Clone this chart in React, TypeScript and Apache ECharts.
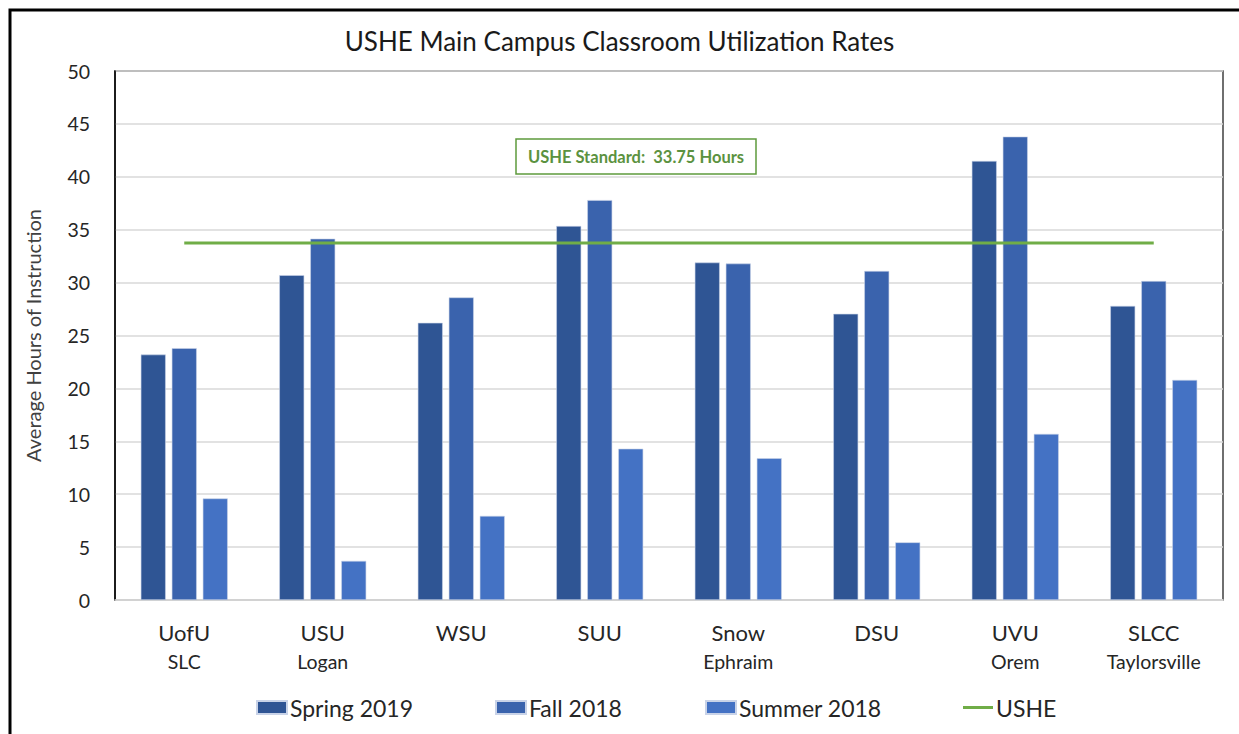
import React, { useEffect, useRef } from "react";
import * as echarts from "echarts";

const categories = ["UofU", "USU", "WSU", "SUU", "Snow", "DSU", "UVU", "SLCC"];
const locations = ["SLC", "Logan", "", "", "Ephraim", "", "Orem", "Taylorsville"];
const spring2019 = [23.2, 30.7, 26.2, 35.35, 31.9, 27.05, 41.5, 27.8];
const fall2018 = [23.8, 34.15, 28.6, 37.8, 31.8, 31.1, 43.8, 30.15];
const summer2018 = [9.6, 3.7, 7.95, 14.3, 13.4, 5.45, 15.7, 20.8];
const usheStandard = 33.75;
const usheLine = categories.map(() => usheStandard);
const yTicks = [0, 5, 10, 15, 20, 25, 30, 35, 40, 45, 50];

const FONT = "Lato, 'Open Sans', sans-serif";
const TEXT = "#262626";

export default function App() {
  const ref = useRef<HTMLDivElement>(null);
  useEffect(() => {
    if (!ref.current) return;
    const chart = echarts.init(ref.current, null, { renderer: "svg" });
    const legendBase = {
      top: 691,
      itemWidth: 30,
      itemHeight: 13,
      itemGap: 4,
      textStyle: { fontFamily: FONT, fontSize: 23, color: TEXT, padding: [0, 0, 0, -2] },
    };
    chart.setOption({
      animation: false,
      backgroundColor: "#ffffff",
      textStyle: { fontFamily: FONT },
      title: {
        text: "USHE Main Campus Classroom Utilization Rates",
        left: "center",
        top: 23,
        textStyle: { fontFamily: FONT, fontSize: 26, fontWeight: "normal", color: "#1a1a1a" },
      },
      grid: {
        left: 115,
        right: 16,
        top: 71,
        bottom: 134,
        show: true,
        borderColor: "#404040",
        borderWidth: 1.5,
        backgroundColor: "transparent",
      },
      legend: [
        { ...legendBase, left: 251, data: [{ name: "Spring 2019", icon: "rect" }] },
        { ...legendBase, left: 490, data: [{ name: "Fall 2018", icon: "rect" }] },
        { ...legendBase, left: 700, data: [{ name: "Summer 2018", icon: "rect" }] },
        {
          ...legendBase,
          left: 958,
          data: [{ name: "USHE", icon: "rect", itemStyle: { color: "#70ad47" } }],
          itemHeight: 3,
        },
      ],
      xAxis: {
        type: "category",
        data: categories,
        boundaryGap: true,
        axisLine: { show: true, lineStyle: { color: "#d9d9d9", width: 1.5 } },
        axisTick: { show: false },
        axisLabel: {
          margin: 18,
          interval: 0,
          formatter: (v: string, i: number) =>
            locations[i] ? `{a|${v}}\n{b|${locations[i]}}` : `{a|${v}}\n{b| }`,
          rich: {
            a: { fontFamily: FONT, fontSize: 22, color: TEXT, lineHeight: 29, align: "center" },
            b: { fontFamily: FONT, fontSize: 19.5, color: TEXT, lineHeight: 29, align: "center" },
          },
          verticalAlign: "top",
        },
      },
      yAxis: {
        type: "value",
        min: yTicks[0],
        max: yTicks[yTicks.length - 1],
        interval: 5,
        name: "Average Hours of Instruction",
        nameLocation: "middle",
        nameGap: 72,
        nameTextStyle: { fontFamily: FONT, fontSize: 20, color: "#404040" },
        axisLine: { show: true, lineStyle: { color: "#000000", width: 1.5 } },
        axisTick: { show: false },
        axisLabel: { fontFamily: FONT, fontSize: 19.5, color: TEXT, margin: 25 },
        splitLine: { show: true, lineStyle: { color: "#d9d9d9", width: 1.5 } },
      },
      series: [
        {
          name: "Spring 2019",
          type: "bar",
          data: spring2019,
          barWidth: 25,
          barGap: "24%",
          itemStyle: { color: "#2f5594", borderColor: "#c9d3e8", borderWidth: 0.6 },
        },
        {
          name: "Fall 2018",
          type: "bar",
          data: fall2018,
          barWidth: 25,
          barGap: "24%",
          itemStyle: { color: "#3a63ad", borderColor: "#c9d3e8", borderWidth: 0.6 },
        },
        {
          name: "Summer 2018",
          type: "bar",
          data: summer2018,
          barWidth: 25,
          barGap: "24%",
          itemStyle: { color: "#4472c4", borderColor: "#c9d3e8", borderWidth: 0.6 },
        },
        {
          name: "USHE",
          type: "line",
          data: usheLine,
          symbol: "none",
          z: 5,
          lineStyle: { color: "#70ad47", width: 3 },
          itemStyle: { color: "#70ad47" },
        },
      ],
      graphic: [
        {
          type: "rect",
          shape: { x: 10, y: 10, width: 1260, height: 760 },
          style: { fill: "none", stroke: "#000000", lineWidth: 3 },
          silent: true,
          z: 100,
        },
        {
          type: "rect",
          shape: { x: 516, y: 139, width: 240, height: 35 },
          style: { fill: "#ffffff", stroke: "#5e9a3c", lineWidth: 1.5 },
          z: 50,
        },
        {
          type: "text",
          x: 636,
          y: 157,
          style: {
            text: `USHE Standard:  ${usheStandard} Hours`,
            fontFamily: FONT,
            fontSize: 16.5,
            fontWeight: "bold",
            fill: "#5b9240",
            align: "center",
            verticalAlign: "middle",
          },
          z: 51,
        },
      ],
    });
    return () => chart.dispose();
  }, []);
  return (
    <div
      ref={ref}
      style={{ position: "fixed", left: 0, top: 0, width: 1239, height: 734 }}
    />
  );
}
